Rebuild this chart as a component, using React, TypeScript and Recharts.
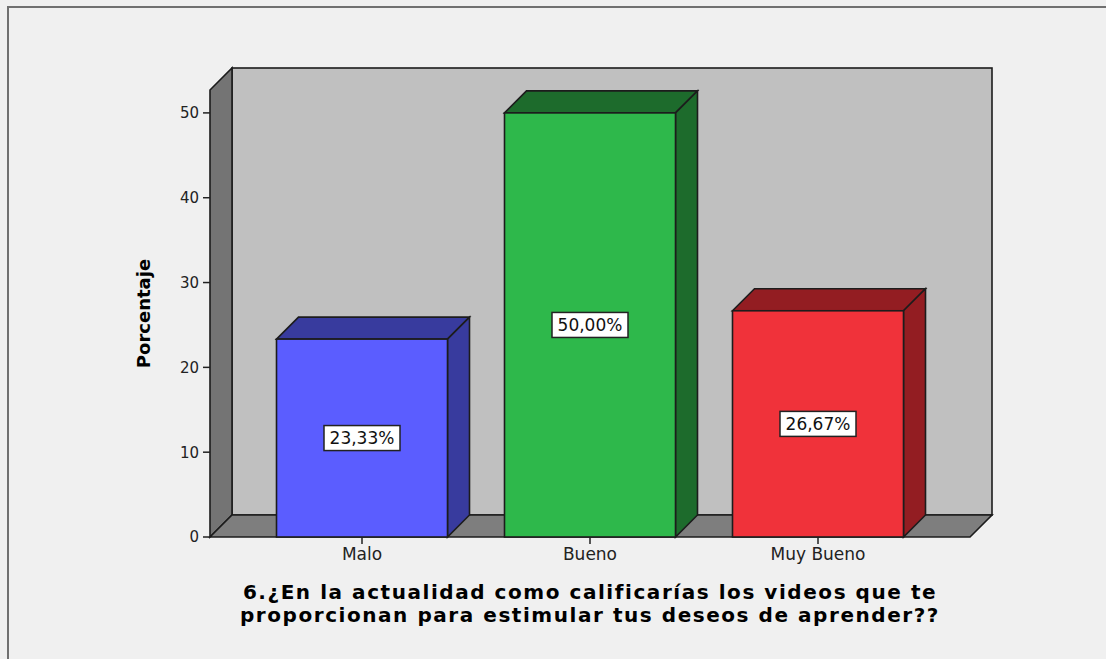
import React from 'react';
import { BarChart, Bar, XAxis, YAxis, LabelList, ReferenceArea } from 'recharts';

// Survey answers and their share of respondents (%)
const categories = ['Malo', 'Bueno', 'Muy Bueno'];
const percentages = [23.33, 50.0, 26.67];
const yTicks = [0, 10, 20, 30, 40, 50];
const yMax = 52.7;

// Face colours of each box: front, then top/side shade
const frontColors = ['#5b5dff', '#2eb84b', '#f0323a'];
const sideColors = ['#383b9e', '#1d6b2c', '#931d22'];

const titleLines = [
  '6.¿En la actualidad como calificarías los videos que te',
  'proporcionan para estimular tus deseos de aprender??',
];
const yLabel = 'Porcentaje';

const data = categories.map((category, i) => ({ category, value: percentages[i] }));

const DEPTH = 22; // 3D depth offset in px
const PAD = 38; // horizontal padding of the category axis
const EDGE = '#1c1c1c';
const FONT = '"DejaVu Sans", Verdana, sans-serif';

// Back wall, left wall and floor of the 3D frame
const Frame = (props: any) => {
  const { x, y, width, height } = props;
  const x0 = x - PAD;
  const x1 = x + width + PAD;
  const yT = y;
  const yB = y + height;
  const d = DEPTH;
  return (
    <g stroke={EDGE} strokeWidth={1.6} strokeLinejoin="miter">
      <rect x={x0 + d} y={yT - d} width={x1 - x0} height={yB - yT} fill="#c0c0c0" />
      <polygon points={`${x0},${yT} ${x0 + d},${yT - d} ${x0 + d},${yB - d} ${x0},${yB}`} fill="#747474" />
      <polygon points={`${x0},${yB} ${x0 + d},${yB - d} ${x1 + d},${yB - d} ${x1},${yB}`} fill="#7e7e7e" />
    </g>
  );
};

const Box3D = (props: any) => {
  const { x, y, width, height, index } = props;
  const d = DEPTH;
  const side = sideColors[index];
  const front = frontColors[index];
  return (
    <g stroke={EDGE} strokeWidth={1.6} strokeLinejoin="miter">
      <polygon points={`${x},${y} ${x + d},${y - d} ${x + width + d},${y - d} ${x + width},${y}`} fill={side} />
      <polygon
        points={`${x + width},${y} ${x + width + d},${y - d} ${x + width + d},${y + height - d} ${x + width},${y + height}`}
        fill={side}
      />
      <rect x={x} y={y} width={width} height={height} fill={front} />
    </g>
  );
};

const ValueTag = (props: any) => {
  const vb = props.viewBox ?? props;
  const { x, y, width, height } = vb;
  const text = `${Number(props.value).toFixed(2).replace('.', ',')}%`;
  const cx = x + width / 2;
  const cy = y + height / 2;
  const w = 76;
  const h = 25;
  return (
    <g>
      <rect x={cx - w / 2} y={cy - h / 2} width={w} height={h} fill="#ffffff" stroke="#222" strokeWidth={1.5} />
      <text x={cx} y={cy + 6} textAnchor="middle" fontFamily={FONT} fontSize={17} fill="#111">
        {text}
      </text>
    </g>
  );
};

const YTitle = (props: any) => {
  const { x, y, height } = props.viewBox;
  const tx = x;
  const ty = y + height / 2;
  return (
    <text
      x={tx}
      y={ty}
      transform={`rotate(-90, ${tx}, ${ty})`}
      textAnchor="middle"
      fontFamily={FONT}
      fontWeight="bold"
      fontSize={18}
      fill="#000"
    >
      {yLabel}
    </text>
  );
};

const XTitle = (props: any) => {
  const { x, y, width } = props.viewBox;
  const cx = x + width / 2;
  return (
    <text textAnchor="middle" fontFamily={FONT} fontWeight="bold" fontSize={20} letterSpacing={1.55} fill="#000">
      <tspan x={cx} y={y + 62}>
        {titleLines[0]}
      </tspan>
      <tspan x={cx} y={y + 85}>
        {titleLines[1]}
      </tspan>
    </text>
  );
};

export default function App() {
  return (
    <div style={{ position: 'relative', width: 1106, height: 659, background: '#f0f0f0', overflow: 'hidden' }}>
      <style>{'body{margin:0}'}</style>
      <div
        style={{
          position: 'absolute',
          left: 7,
          top: 6,
          right: -10,
          bottom: -10,
          borderTop: '2px solid #707070',
          borderLeft: '2px solid #707070',
        }}
      />
      <BarChart
        width={1106}
        height={659}
        data={data}
        margin={{ top: 90, right: 136, bottom: 82, left: 150 }}
        barCategoryGap="12.5%"
        style={{ position: 'absolute', left: 0, top: 0 }}
      >
        <XAxis
          dataKey="category"
          padding={{ left: PAD, right: PAD }}
          axisLine={false}
          tickLine={{ stroke: '#222', strokeWidth: 1.5 }}
          tickSize={7}
          tickMargin={4}
          height={40}
          tick={{ fontFamily: FONT, fontSize: 17, fill: '#222' }}
          label={{ content: XTitle }}
        />
        <YAxis
          width={60}
          domain={[0, yMax]}
          ticks={yTicks}
          axisLine={false}
          tickLine={{ stroke: '#222', strokeWidth: 1.5 }}
          tickSize={7}
          tickMargin={4}
          tick={{ fontFamily: FONT, fontSize: 15, fill: '#222' }}
          label={{ content: YTitle }}
        />
        <ReferenceArea y1={0} y2={yMax} shape={Frame} ifOverflow="visible" />
        <Bar dataKey="value" isAnimationActive={false} shape={Box3D}>
          <LabelList dataKey="value" content={ValueTag} />
        </Bar>
      </BarChart>
    </div>
  );
}
